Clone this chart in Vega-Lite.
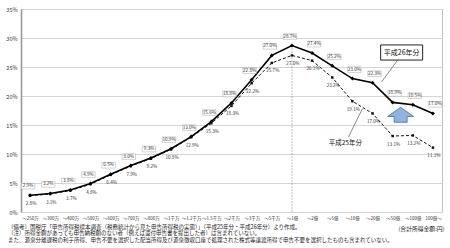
{
  "$schema": "https://vega.github.io/schema/vega-lite/v6.json",
  "width": 421,
  "height": 203,
  "autosize": {"type": "none"},
  "padding": {"left": 21, "top": 9, "right": 8, "bottom": 36},
  "background": "white",
  "config": {
    "font": "Noto Sans CJK JP",
    "view": {"stroke": "#bfbfbf", "strokeWidth": 1},
    "axisY": {
      "tickCount": 7,
      "title": null,
      "labelExpr": "datum.value + '%'",
      "labelFontSize": 5.5,
      "labelColor": "#333",
      "labelPadding": 4,
      "labelOverlap": false,
      "ticks": false,
      "domainColor": "#999",
      "domainWidth": 1.6,
      "gridColor": "#d4d4d4",
      "gridWidth": 1
    }
  },
  "title": {
    "text": [
      "（備考）国税庁「申告所得税標本調査（税務統計から見た申告所得税の実態）」（平成25年分・平成26年分）より作成。",
      "　（注）所得金額があっても申告納税額のない者（例えば還付申告書を提出した者）は含まれていない。",
      "　　　また、源泉分離課税の利子所得、申告不要を選択した配当所得及び源泉徴収口座で処理された株式等譲渡所得で申告不要を選択したものも含まれていない。"
    ],
    "orient": "bottom",
    "anchor": "start",
    "frame": "group",
    "fontSize": 5.5,
    "fontWeight": "normal",
    "color": "#222",
    "lineHeight": 6.6,
    "baseline": "top",
    "dx": -13,
    "dy": -6,
    "offset": 0
  },
  "datasets": {
    "main": [
      {"i": 0, "cat": "～250万", "h26": 2.9, "h25": 2.8},
      {"i": 1, "cat": "～300万", "h26": 3.2, "h25": 3.1},
      {"i": 2, "cat": "～400万", "h26": 3.8, "h25": 3.7},
      {"i": 3, "cat": "～500万", "h26": 4.9, "h25": 4.8},
      {"i": 4, "cat": "～600万", "h26": 6.5, "h25": 6.4},
      {"i": 5, "cat": "～700万", "h26": 8.0, "h25": 7.9},
      {"i": 6, "cat": "～800万", "h26": 9.3, "h25": 9.2},
      {"i": 7, "cat": "～1千万", "h26": 10.9, "h25": 10.8},
      {"i": 8, "cat": "～1.2千万", "h26": 13.0, "h25": 12.9},
      {"i": 9, "cat": "～1.5千万", "h26": 15.6, "h25": 15.3},
      {"i": 10, "cat": "～2千万", "h26": 18.8, "h25": 18.3},
      {"i": 11, "cat": "～3千万", "h26": 22.8, "h25": 22.2},
      {"i": 12, "cat": "～5千万", "h26": 27.0, "h25": 25.7},
      {"i": 13, "cat": "～1億", "h26": 28.7, "h25": 27.0},
      {"i": 14, "cat": "～2億", "h26": 27.4, "h25": 26.1},
      {"i": 15, "cat": "～5億", "h26": 25.2, "h25": 23.2},
      {"i": 16, "cat": "～10億", "h26": 23.0, "h25": 19.1},
      {"i": 17, "cat": "～20億", "h26": 22.3, "h25": 17.0},
      {"i": 18, "cat": "～50億", "h26": 18.9, "h25": 13.1},
      {"i": 19, "cat": "～100億", "h26": 18.5, "h25": 13.2},
      {"i": 20, "cat": "100億～", "h26": 17.0, "h25": 11.1}
    ],
    "notes": [
      {"kind": "box26", "cat": "～50億", "v": 27.5, "label": "平成26年分"},
      {"kind": "arrow", "cat": "～50億", "v": 16.7, "label": ""},
      {"kind": "text25", "cat": "～10億", "v": 11.9, "label": "平成25年分"},
      {"kind": "lead26", "cat": "～50億", "cat2": "～20億", "v": 26.2, "v2": 22.4},
      {"kind": "lead25", "cat": "～10億", "cat2": "～10億", "v": 12.9, "v2": 17.8}
    ]
  },
  "encoding": {
    "x": {
      "field": "cat",
      "type": "nominal",
      "scale": {
        "type": "point",
        "padding": 0.45,
        "domain": ["～250万","～300万","～400万","～500万","～600万","～700万","～800万","～1千万","～1.2千万","～1.5千万","～2千万","～3千万","～5千万","～1億","～2億","～5億","～10億","～20億","～50億","～100億","100億～"]
      },
      "axis": {
        "title": "(合計所得金額:円)",
        "titleX": 423,
        "titleY": 16,
        "titleAlign": "right",
        "titleAnchor": null,
        "titleBaseline": "middle",
        "titleFontSize": 5.8,
        "titleFontWeight": "normal",
        "titleColor": "#222",
        "labelAngle": 0,
        "labelFontSize": 4.5,
        "labelColor": "#333",
        "labelPadding": 3,
        "ticks": false,
        "domain": false,
        "labelOverlap": false
      }
    }
  },
  "layer": [
    {
      "data": {"name": "main"},
      "transform": [{"filter": "datum.cat == '～1億'"}],
      "mark": {"type": "rule", "color": "#555", "strokeWidth": 0.8, "strokeDash": [1, 2]},
      "encoding": {
        "y": {
          "field": "h26",
          "type": "quantitative",
          "scale": {"domain": [0, 35], "nice": false},
          "axis": {"values": [0, 5, 10, 15, 20, 25, 30, 35], "tickCount": 8, "labelOverlap": false, "title": null}
        },
        "y2": {"datum": 0}
      }
    },
    {
      "data": {"name": "main"},
      "mark": {"type": "line", "color": "#111", "strokeWidth": 1, "strokeDash": [3, 2]},
      "encoding": {"y": {"field": "h25", "type": "quantitative", "axis": {"values": [0, 5, 10, 15, 20, 25, 30, 35], "tickCount": 8, "labelOverlap": false, "title": null}}}
    },
    {
      "data": {"name": "main"},
      "mark": {"type": "point", "shape": "square", "filled": true, "color": "#111", "size": 6, "opacity": 1},
      "encoding": {"y": {"field": "h25", "type": "quantitative", "axis": {"values": [0, 5, 10, 15, 20, 25, 30, 35], "tickCount": 8, "labelOverlap": false, "title": null}}}
    },
    {
      "data": {"name": "main"},
      "mark": {"type": "line", "color": "#000", "strokeWidth": 1.6},
      "encoding": {"y": {"field": "h26", "type": "quantitative", "axis": {"values": [0, 5, 10, 15, 20, 25, 30, 35], "tickCount": 8, "labelOverlap": false, "title": null}}}
    },
    {
      "data": {"name": "main"},
      "mark": {"type": "point", "shape": "diamond", "filled": true, "color": "#000", "size": 16, "opacity": 1},
      "encoding": {"y": {"field": "h26", "type": "quantitative", "axis": {"values": [0, 5, 10, 15, 20, 25, 30, 35], "tickCount": 8, "labelOverlap": false, "title": null}}}
    },
    {
      "data": {"name": "main"},
      "transform": [{"filter": "datum.i <= 13"}],
      "mark": {"type": "point", "shape": "M-1,-0.42H1V0.42H-1Z", "filled": true, "fill": "white", "stroke": "#a6a6a6", "strokeWidth": 0.5, "size": 180, "opacity": 1, "yOffset": -9, "xOffset": -2},
      "encoding": {"y": {"field": "h26", "type": "quantitative", "axis": {"values": [0, 5, 10, 15, 20, 25, 30, 35], "tickCount": 8, "labelOverlap": false, "title": null}}}
    },
    {
      "data": {"name": "main"},
      "transform": [{"filter": "datum.i > 13"}],
      "mark": {"type": "point", "shape": "M-1,-0.42H1V0.42H-1Z", "filled": true, "fill": "white", "stroke": "#a6a6a6", "strokeWidth": 0.5, "size": 180, "opacity": 1, "yOffset": -9, "xOffset": 2},
      "encoding": {"y": {"field": "h26", "type": "quantitative", "axis": {"values": [0, 5, 10, 15, 20, 25, 30, 35], "tickCount": 8, "labelOverlap": false, "title": null}}}
    },
    {
      "data": {"name": "main"},
      "transform": [{"filter": "datum.i <= 13"}, {"calculate": "format(datum.h26, '.1f') + '%'", "as": "lab"}],
      "mark": {"type": "text", "fontSize": 4.6, "color": "#333", "yOffset": -9, "xOffset": -2, "baseline": "middle"},
      "encoding": {"y": {"field": "h26", "type": "quantitative", "axis": {"values": [0, 5, 10, 15, 20, 25, 30, 35], "tickCount": 8, "labelOverlap": false, "title": null}}, "text": {"field": "lab"}}
    },
    {
      "data": {"name": "main"},
      "transform": [{"filter": "datum.i > 13"}, {"calculate": "format(datum.h26, '.1f') + '%'", "as": "lab"}],
      "mark": {"type": "text", "fontSize": 4.6, "color": "#333", "yOffset": -9, "xOffset": 2, "baseline": "middle"},
      "encoding": {"y": {"field": "h26", "type": "quantitative", "axis": {"values": [0, 5, 10, 15, 20, 25, 30, 35], "tickCount": 8, "labelOverlap": false, "title": null}}, "text": {"field": "lab"}}
    },
    {
      "data": {"name": "main"},
      "transform": [{"calculate": "format(datum.h25, '.1f') + '%'", "as": "lab"}],
      "mark": {"type": "text", "fontSize": 4.6, "color": "#333", "yOffset": 8.5, "xOffset": 1, "baseline": "middle"},
      "encoding": {"y": {"field": "h25", "type": "quantitative", "axis": {"values": [0, 5, 10, 15, 20, 25, 30, 35], "tickCount": 8, "labelOverlap": false, "title": null}}, "text": {"field": "lab"}}
    },
    {
      "data": {"name": "notes"},
      "transform": [{"filter": "datum.kind == 'lead26'"}],
      "mark": {"type": "rule", "color": "#555", "strokeWidth": 0.7, "xOffset": 5, "x2Offset": 9},
      "encoding": {
        "x2": {"field": "cat2"},
        "y": {"field": "v", "type": "quantitative", "axis": {"values": [0, 5, 10, 15, 20, 25, 30, 35], "tickCount": 8, "labelOverlap": false, "title": null}},
        "y2": {"field": "v2"}
      }
    },
    {
      "data": {"name": "notes"},
      "transform": [{"filter": "datum.kind == 'lead25'"}],
      "mark": {"type": "rule", "color": "#555", "strokeWidth": 0.7, "xOffset": -4, "x2Offset": 10},
      "encoding": {
        "x2": {"field": "cat2"},
        "y": {"field": "v", "type": "quantitative", "axis": {"values": [0, 5, 10, 15, 20, 25, 30, 35], "tickCount": 8, "labelOverlap": false, "title": null}},
        "y2": {"field": "v2"}
      }
    },
    {
      "data": {"name": "notes"},
      "transform": [{"filter": "datum.kind == 'box26'"}],
      "mark": {"type": "point", "shape": "M-1,-0.36H1V0.36H-1Z", "filled": true, "fill": "white", "stroke": "#222", "strokeWidth": 1, "size": 1764, "opacity": 1, "xOffset": 9},
      "encoding": {"y": {"field": "v", "type": "quantitative", "axis": {"values": [0, 5, 10, 15, 20, 25, 30, 35], "tickCount": 8, "labelOverlap": false, "title": null}}}
    },
    {
      "data": {"name": "notes"},
      "transform": [{"filter": "datum.kind == 'box26'"}],
      "mark": {"type": "text", "fontSize": 7, "color": "#111", "xOffset": 9, "baseline": "middle"},
      "encoding": {"y": {"field": "v", "type": "quantitative", "axis": {"values": [0, 5, 10, 15, 20, 25, 30, 35], "tickCount": 8, "labelOverlap": false, "title": null}}, "text": {"field": "label"}}
    },
    {
      "data": {"name": "notes"},
      "transform": [{"filter": "datum.kind == 'text25'"}],
      "mark": {"type": "text", "fontSize": 6.5, "color": "#111", "xOffset": -7, "baseline": "middle"},
      "encoding": {"y": {"field": "v", "type": "quantitative", "axis": {"values": [0, 5, 10, 15, 20, 25, 30, 35], "tickCount": 8, "labelOverlap": false, "title": null}}, "text": {"field": "label"}}
    },
    {
      "data": {"name": "notes"},
      "transform": [{"filter": "datum.kind == 'arrow'"}],
      "mark": {"type": "point", "shape": "M0,-0.6L1,0.1L0.5,0.1L0.5,0.55L-0.5,0.55L-0.5,0.1L-1,0.1Z", "filled": true, "fill": "#8eb4e3", "stroke": "#41719c", "strokeWidth": 0.8, "size": 676, "opacity": 1, "xOffset": 8},
      "encoding": {"y": {"field": "v", "type": "quantitative", "axis": {"values": [0, 5, 10, 15, 20, 25, 30, 35], "tickCount": 8, "labelOverlap": false, "title": null}}}
    }
  ]
}
